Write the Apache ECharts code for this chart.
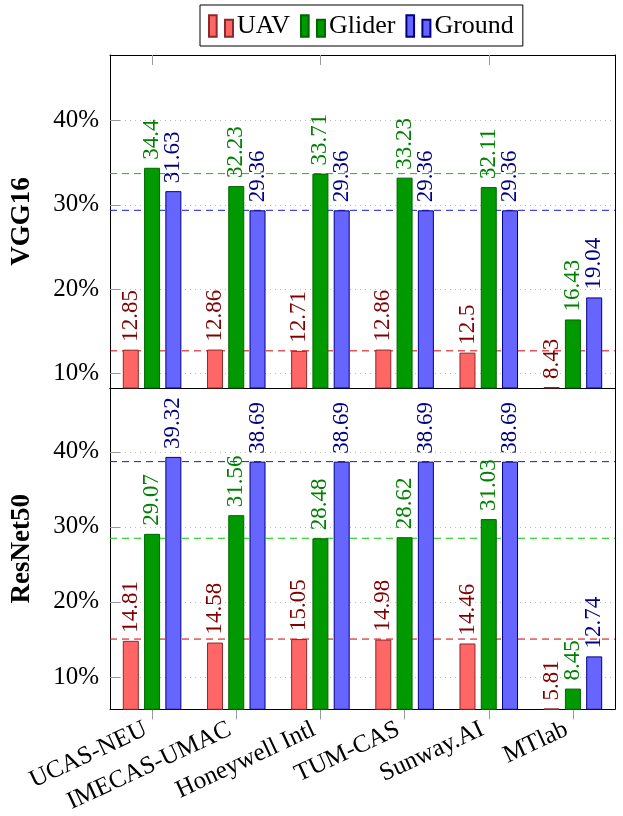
<!DOCTYPE html>
<html>
<head>
<meta charset="utf-8">
<script src="https://cdn.jsdelivr.net/npm/echarts@6/dist/echarts.min.js"></script>
<style>
  html, body { margin: 0; padding: 0; background: #ffffff; }
  #chart { width: 623px; height: 816px; }
</style>
</head>
<body>
<div id="chart"></div>
<script>
// Teams on the shared category axis
const teams = ['UCAS-NEU', 'IMECAS-UMAC', 'Honeywell Intl', 'TUM-CAS', 'Sunway.AI', 'MTlab'];

// VGG16 backbone scores (%)
const vggUav    = [12.85, 12.86, 12.71, 12.86, 12.5, 8.43];
const vggGlider = [34.4, 32.23, 33.71, 33.23, 32.11, 16.43];
const vggGround = [31.63, 29.36, 29.36, 29.36, 29.36, 19.04];

// ResNet50 backbone scores (%)
const resUav    = [14.81, 14.58, 15.05, 14.98, 14.46, 5.81];
const resGlider = [29.07, 31.56, 28.48, 28.62, 31.03, 8.45];
const resGround = [39.32, 38.69, 38.69, 38.69, 38.69, 12.74];

// Tick values on the y axes
const yTicks = [10, 20, 30, 40];

// Reference team whose scores are drawn as dashed lines
const baselineTeam = 'Honeywell Intl';
const baseIdx = teams.indexOf(baselineTeam);

const SERIF = '"Liberation Serif", "DejaVu Serif", serif';

const palette = {
  UAV:    { fill: '#ff6666', border: '#8a2a2a', text: '#800000', line: '#d00000' },
  Glider: { fill: '#009900', border: '#006600', text: '#008000', line: '#00cc00' },
  Ground: { fill: '#6666ff', border: '#000080', text: '#000080', line: '#1a1ad0' }
};

function barSeries(name, data, panel) {
  const c = palette[name];
  return {
    name: name,
    type: 'bar',
    xAxisIndex: panel,
    yAxisIndex: panel * 2,
    data: data,
    barWidth: 16,
    barGap: '33%',
    z: 3,
    itemStyle: { color: c.fill, borderColor: c.border, borderWidth: 1 },
    label: {
      show: true,
      position: 'top',
      rotate: 90,
      align: 'left',
      verticalAlign: 'middle',
      distance: 8,
      color: c.text,
      fontFamily: SERIF,
      fontSize: 23
    }
  };
}

// Dashed horizontal line at the reference team's score, spanning the whole panel
// (drawn on a hidden 0..1 value axis so it runs edge to edge)
function baselineSeries(name, data, panel) {
  const c = palette[name];
  const v = data[baseIdx];
  return {
    name: name + ' (' + baselineTeam + ')',
    type: 'line',
    xAxisIndex: 4 + panel,
    yAxisIndex: panel * 2,
    data: [[0, v], [1, v]],
    symbol: 'none',
    silent: true,
    z: 1,
    lineStyle: { color: c.line, type: [7, 5], width: 1 },
    emphasis: { disabled: true }
  };
}

const legendIcon = 'path://M0,0h23v65h-23z M48,14h24v51h-24z';

const grids = [
  { left: 110, top: 55, width: 505, height: 333 },
  { left: 110, top: 388, width: 505, height: 334 }
];

// the axis starts a hair under the smallest score so that bar keeps its label
const axisMin = function (v) { return v.min - 0.12; };

function yPair(gridIdx, max, name) {
  const tickStyle = { show: true, inside: true, length: 10, customValues: yTicks,
                      lineStyle: { color: '#999999', width: 1 } };
  return [
    {
      type: 'value',
      gridIndex: gridIdx,
      position: 'left',
      min: axisMin,
      max: max,
      name: name,
      nameLocation: 'middle',
      nameRotate: 90,
      nameGap: 74,
      nameTextStyle: { fontFamily: SERIF, fontWeight: 'bold', fontSize: 27, color: '#000' },
      axisLine: { show: true, lineStyle: { color: '#000', width: 1 } },
      axisTick: tickStyle,
      axisLabel: {
        customValues: yTicks,
        formatter: '{value}%',
        fontFamily: SERIF,
        fontSize: 25,
        color: '#000',
        margin: 11
      },
      splitLine: { show: true, lineStyle: { color: '#bbbbbb', type: [1, 4], width: 1 } }
    },
    {
      type: 'value',
      gridIndex: gridIdx,
      position: 'right',
      min: axisMin,
      max: max,
      axisLine: { show: true, lineStyle: { color: '#000', width: 1 } },
      axisTick: tickStyle,
      axisLabel: { show: false, customValues: yTicks },
      splitLine: { show: false }
    }
  ];
}

const xTickStyle = (inside) => ({
  show: true, inside: inside, alignWithLabel: true, length: 10,
  lineStyle: { color: '#999999', width: 1 }
});

const spanAxis = (gridIdx) => ({
  type: 'value', gridIndex: gridIdx, min: 0, max: 1, show: false, position: 'bottom'
});

const option = {
  backgroundColor: '#ffffff',
  animation: false,
  legend: {
    data: ['UAV', 'Glider', 'Ground'],
    left: 200,
    top: 5,
    orient: 'horizontal',
    icon: legendIcon,
    itemWidth: 24,
    itemHeight: 23,
    itemGap: 10,
    padding: [8, 9, 7, 8],
    borderColor: '#000',
    borderWidth: 1,
    borderRadius: 0,
    textStyle: { fontFamily: SERIF, fontSize: 26, color: '#000', padding: [0, 0, 0, -1] }
  },
  grid: grids.map(g => Object.assign({ show: false, containLabel: false }, g)),
  xAxis: [
    {
      type: 'category', gridIndex: 0, data: teams, position: 'bottom',
      axisLine: { show: true, lineStyle: { color: '#000' } },
      axisTick: xTickStyle(true),
      axisLabel: { show: false }
    },
    {
      type: 'category', gridIndex: 1, data: teams, position: 'bottom',
      axisLine: { show: true, lineStyle: { color: '#000' } },
      axisTick: xTickStyle(false),
      axisLabel: {
        rotate: 25,
        margin: 16,
        padding: [0, 7, 0, 0],
        fontFamily: SERIF,
        fontSize: 25,
        color: '#000',
        interval: 0
      }
    },
    {
      type: 'category', gridIndex: 0, data: teams, position: 'top',
      axisLine: { show: true, lineStyle: { color: '#000' } },
      axisTick: xTickStyle(true),
      axisLabel: { show: false }
    },
    {
      type: 'category', gridIndex: 1, data: teams, position: 'top',
      axisLine: { show: true, lineStyle: { color: '#000' } },
      axisTick: { show: false },
      axisLabel: { show: false }
    },
    spanAxis(0),
    spanAxis(1)
  ],
  yAxis: [].concat(yPair(0, 47.76, 'VGG16'), yPair(1, 48.5, 'ResNet50')),
  series: [
    baselineSeries('UAV', vggUav, 0),
    baselineSeries('Glider', vggGlider, 0),
    baselineSeries('Ground', vggGround, 0),
    baselineSeries('UAV', resUav, 1),
    baselineSeries('Glider', resGlider, 1),
    baselineSeries('Ground', resGround, 1),
    barSeries('UAV', vggUav, 0),
    barSeries('Glider', vggGlider, 0),
    barSeries('Ground', vggGround, 0),
    barSeries('UAV', resUav, 1),
    barSeries('Glider', resGlider, 1),
    barSeries('Ground', resGround, 1)
  ]
};

const chart = echarts.init(document.getElementById('chart'), null, { renderer: 'canvas' });
chart.setOption(option);
</script>
</body>
</html>
